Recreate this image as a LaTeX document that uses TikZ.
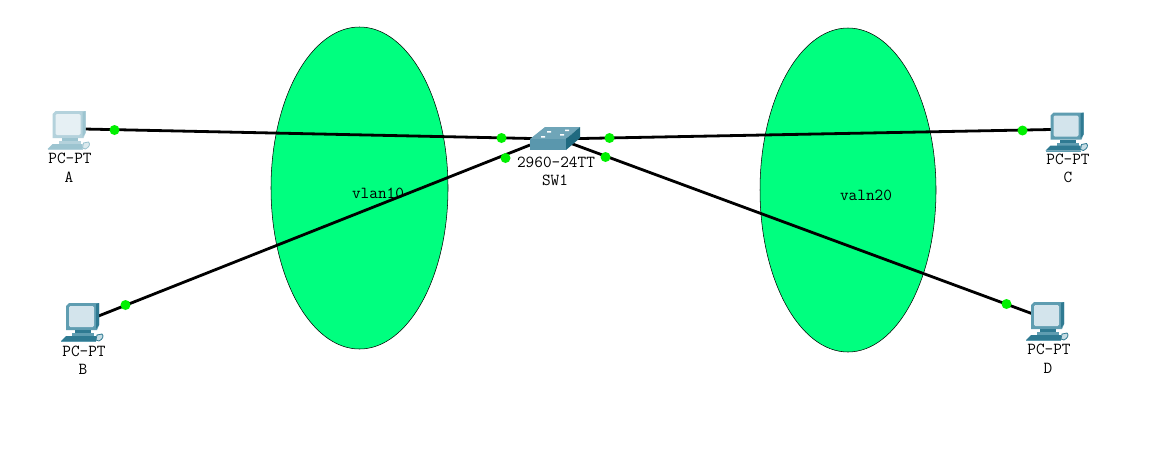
\documentclass[tikz,border=0pt]{standalone}
\usepackage{fontspec}
\setmonofont{Latin Modern Mono}
\definecolor{zonegreen}{HTML}{00FF7F}
\definecolor{portgreen}{HTML}{00F000}
\definecolor{swtop}{HTML}{6FA5B8}
\definecolor{swfront}{HTML}{5A97AD}
\definecolor{swside}{HTML}{1F6A80}
\tikzset{
  x=0.75pt,y=-0.75pt,
  zone/.style={draw=black,line width=0.4pt,fill=zonegreen},
  link/.style={draw=black,line width=2.1pt},
  port/.style={circle,fill=portgreen,draw=none,inner sep=0pt,minimum size=7.5pt},
  lab/.style={font=\ttfamily\fontsize{12.6}{12.6}\selectfont,inner sep=0pt,text=black},
  pc/.pic={
    \fill[pcdark] (0,3) -- (3,0) -- (33,0) -- (33,22) -- (31,27) -- (0,27) -- cycle;
    \fill[pcmid] (30,1) -- (33,0) -- (33,22) -- (30,26) -- cycle;
    \fill[pcscreen,rounded corners=1pt] (3,3) rectangle (28,24);
    \fill[pcmid] (9,27) rectangle (25,31);
    \fill[pcdark] (6,30) rectangle (28,33);
    \fill[pcmid] (-5,38) -- (0,33) -- (30,33) -- (30,38) -- cycle;
    \fill[pcdark] (-5,38) rectangle (30,39);
    \draw[pcmid,line width=.6pt,fill=pclight] (30,37) -- (31,32) -- (36,31) .. controls (38,33) and (37,36) .. (33,38) -- cycle;
  }
}
\begin{document}
\begin{tikzpicture}
\useasboundingbox (0,0) rectangle (1169,450);
\fill[white] (0,0) rectangle (1169,450);
\path[zone] (359.5,188) ellipse [x radius=88.5,y radius=161];
\path[zone] (848,190) ellipse [x radius=88,y radius=162];
\node[lab] (vlanA) at (378,193) {vlan10};
\node[lab] (vlanB) at (866,195) {valn20};
\coordinate (sw) at (555,139);
\coordinate (swB) at (530,145);
\coordinate (swD) at (570,143);
\coordinate (pcA) at (84,129);
\coordinate (pcB) at (96,317);
\coordinate (pcC) at (1051,129.5);
\coordinate (pcD) at (1033,314);
\draw[link] (pcA) -- (sw);
\draw[link] (pcC) -- (sw);
\draw[link] (pcB) -- (swB);
\draw[link] (pcD) -- (swD);
\definecolor{pcdark}{HTML}{B4D2DC}\definecolor{pcmid}{HTML}{9CC4D0}\definecolor{pcscreen}{HTML}{E6F0F4}\definecolor{pclight}{HTML}{DCEAEE}
\pic at (52.5,111) {pc};
\definecolor{pcdark}{HTML}{5F9DB1}\definecolor{pcmid}{HTML}{2F7A92}\definecolor{pcscreen}{HTML}{D3E4EC}\definecolor{pclight}{HTML}{C5DCE4}
\pic at (66,303) {pc};
\pic at (1050.5,112.5) {pc};
\pic at (1031,302) {pc};
% switch
\fill[swtop] (530,139) -- (545,127) -- (580,127) -- (566,139) -- cycle;
\fill[swfront] (530,139) rectangle (566,150);
\fill[swside] (566,139) -- (580,127) -- (580,138) -- (566,150) -- cycle;
\fill[white] (547,131) rectangle (551,132.5) (565,129.5) rectangle (569,131) (541,136) rectangle (545,137.5) (560,134) rectangle (564,135.5);
\node[port] (p1) at (114.5,130) {};
\node[port] (p2) at (501.5,138) {};
\node[port] (p3) at (125.5,305) {};
\node[port] (p4) at (505.5,158) {};
\node[port] (p5) at (609.5,138) {};
\node[port] (p6) at (605.5,157) {};
\node[port] (p7) at (1022.5,130.5) {};
\node[port] (p8) at (1006.5,304) {};
\node[lab] (la1) at (70,158) {PC-PT};
\node[lab] (la2) at (69,177) {A};
\node[lab] (lb1) at (84,351) {PC-PT};
\node[lab] (lb2) at (83,369) {B};
\node[lab] (lc1) at (1068,159) {PC-PT};
\node[lab] (lc2) at (1068,177) {C};
\node[lab] (ld1) at (1049,349) {PC-PT};
\node[lab] (ld2) at (1048,368) {D};
\node[lab] (s1) at (556,162) {2960-24TT};
\node[lab] (s2) at (555,180) {SW1};
\end{tikzpicture}
\end{document}
